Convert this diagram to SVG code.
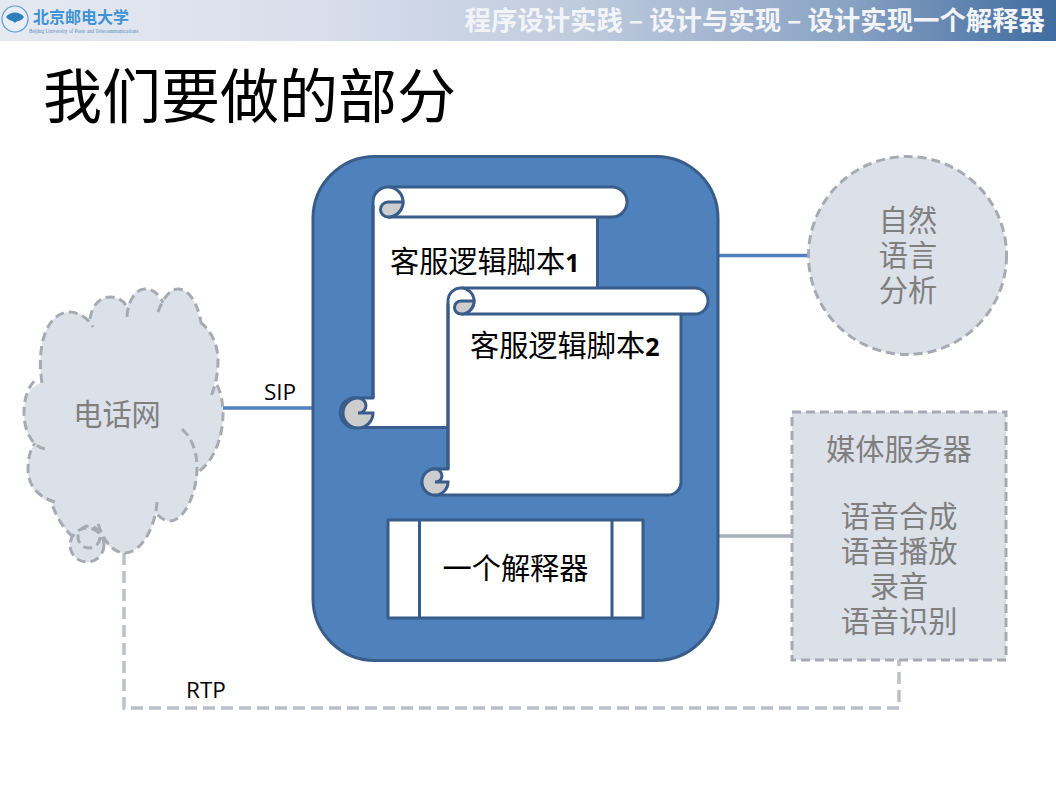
<svg xmlns="http://www.w3.org/2000/svg" width="1056" height="792" viewBox="0 0 1056 792">
<style>
text{font-family:"Noto Sans CJK SC","Liberation Sans",sans-serif}
.gt{fill:#7f7f7f;font-size:29.200px;text-anchor:middle}
.bt{fill:#000;font-size:29.200px}
.num{font-family:"Open Sans","Liberation Sans",sans-serif;font-weight:700;font-size:25px}
.lat{font-family:"Open Sans","Liberation Sans",sans-serif;font-size:22.500px;fill:#000}
.dash{fill:none;stroke:#a6abb3;stroke-width:3;stroke-dasharray:9 5}
.pale{fill:#dce0e9;stroke:none}
.sc{fill:#fff;stroke:#385d8a;stroke-width:3;stroke-linejoin:round}
.curl{fill:#cdcdcd;stroke:#385d8a;stroke-width:3}
</style>
<defs>
<linearGradient id="band" x1="0" x2="1" y1="0" y2="0">
<stop offset="0" stop-color="#e6e9f2"/><stop offset=".3" stop-color="#d8deeb"/><stop offset=".55" stop-color="#bfcbde"/><stop offset=".8" stop-color="#8aa3c4"/><stop offset="1" stop-color="#3f6c9f"/>
</linearGradient>
</defs>
<g id="header">
<rect width="1056" height="41" fill="url(#band)"/>
<circle cx="15" cy="19" r="13" fill="#e8eef6" stroke="#5b9bd0" stroke-width="1.2"/>
<path d="M6 17c4-6 14-6 18 0c-3 5-7 3-9 6c-3-3-6-2-9-6z" fill="#2f7fbe"/>
<text x="33" y="23" font-size="16" fill="#3d93d3" font-weight="700">北京邮电大学</text>
<text x="29" y="32.500" font-size="5.200" fill="#5b8fbe" style="font-family:'Liberation Serif',serif">Beijing University of Posts and Telecommunications</text>
<text x="1045" y="30" text-anchor="end" font-size="26.400" font-weight="700" fill="#f2f4f8">程序设计实践 – 设计与实现 – 设计实现一个解释器</text>
</g>
<text id="title" x="43" y="118" font-size="59" fill="#000">我们要做的部分</text>
<g id="connectors" fill="none" stroke-width="3.500">
<path d="M718 255.500H808" stroke="#4f81bd"/>
<path d="M223 408H313" stroke="#4f81bd"/>
<path d="M718 536H792" stroke="#a9afb8"/>
<path d="M124 553V708H899V660" stroke="#bcc0c9" stroke-dasharray="12 6"/>
<text class="lat" x="264" y="400" stroke="none">SIP</text>
<text class="lat" x="186" y="698" stroke="none">RTP</text>
</g>
<g id="telephone-network">
<circle class="pale" cx="87" cy="545" r="17"/>
<path class="pale" d="M42 383C36 345 47 312 70 312C78 312 87 316 90 320C92 305 100 297 110 297C118 297 124 301 127 307C130 296 136 289 145 289C152 289 158 294 161 303C166 294 171 289 178 289C189 289 197 302 200 322C211 330 218 345 218 360C218 370 216 378 214 385C220 393 223 403 223 413C223 440 212 463 198 472C196 494 184 521 170 521C165 521 160 518 156 513C150 538 137 553 125 553C112 553 102 540 97 530C86 537 80 539 73 537C63 528 55 515 52 503C36 497 28 485 28 470C28 458 30 450 35 443C27 435 24 425 24 413C24 398 30 385 42 383Z"/>
<g class="dash">
<path d="M42 383C36 345 47 312 70 312C78 312 88 318 93 327"/>
<path d="M90 319C92 305 100 297 110 297C118 297 124 301 127 307"/>
<path d="M127 317C128 300 136 289 145 289C153 289 159 294 163 303"/>
<path d="M158 312C163 298 170 289 178 289C189 289 197 302 201 322"/>
<path d="M200 322C211 330 218 345 218 360C218 375 215 388 210 398"/>
<path d="M217 385C221 393 223 403 223 413C223 440 212 463 198 472"/>
<path d="M182 429C192 438 197 452 197 467C197 494 184 521 170 521C165 521 160 518 156 513"/>
<path d="M157 502C155 530 140 553 125 553C112 553 101 538 97 519"/>
<path d="M73 537C63 528 55 515 52 503"/>
<path d="M55 502C38 497 28 485 28 470C28 458 30 450 35 443"/>
<path d="M45 449C32 447 24 430 24 413C24 398 28 385 38 378"/>
<circle cx="87" cy="545" r="17"/>
<circle cx="89" cy="537" r="11"/>
</g>
<text class="gt" x="117" y="425">电话网</text>
</g>
<g id="core">
<rect x="313" y="156.500" width="405" height="504" rx="62" fill="#4f81bd" stroke="#385d8a" stroke-width="3"/>
</g>
<g id="script-1">
<path class="sc" d="M373 202A15 15 0 0 1 388 187H612A15 15 0 0 1 612 217H597.500V413A14 14 0 0 1 583 427.500H358A15 15 0 1 1 358 398H373Z"/>
<path class="sc" d="M373 398V205M388 217H597" fill="none"/>
<path class="curl" d="M373 413H358A7.500 7.500 0 0 0 366 405.500A8 8 0 0 0 358 398A15 15 0 1 0 373 413Z"/>
<path class="sc" d="M388 187A15 15 0 0 1 388 217H388" fill="#fff"/>
<path class="curl" d="M403 202A15 15 0 0 1 388 217A7.500 7.500 0 0 1 388 202Z"/>
<text class="bt" x="390" y="272">客服逻辑脚本<tspan class="num">1</tspan></text>
</g>
<g id="script-2">
<path class="sc" d="M448 301A13 13 0 0 1 461 288H695A13 13 0 0 1 695 314H681V482A13 13 0 0 1 668 495H435A13 13 0 1 1 435 469H448Z"/>
<path class="sc" d="M448 469V304M463 314H681" fill="none"/>
<path class="curl" d="M448 482H435A6.500 6.500 0 0 0 442 475.500A7 7 0 0 0 435 469A13 13 0 1 0 448 482Z"/>
<path class="sc" d="M461 288A13 13 0 0 1 461 314"/>
<path class="curl" d="M474 301A13 13 0 0 1 461 314A6.500 6.500 0 0 1 461 301Z"/>
<text class="bt" x="470" y="356">客服逻辑脚本<tspan class="num">2</tspan></text>
</g>
<g id="interpreter">
<rect class="sc" x="388" y="520" width="255" height="98"/>
<path class="sc" d="M419.500 520V618M612 520V618"/>
<text class="bt" x="515.500" y="579" text-anchor="middle">一个解释器</text>
</g>
<g id="nlp">
<circle cx="907.500" cy="255.500" r="99" class="dash" style="fill:#dce0e9"/>
<text class="gt"><tspan x="908" y="231">自然</tspan><tspan x="908" y="266">语言</tspan><tspan x="908" y="301">分析</tspan></text>
</g>
<g id="media-server">
<rect x="792" y="412" width="214" height="248" class="dash" style="fill:#dce0e9"/>
<text class="gt"><tspan x="899" y="460">媒体服务器</tspan><tspan x="899" y="527">语音合成</tspan><tspan x="899" y="562">语音播放</tspan><tspan x="899" y="597">录音</tspan><tspan x="899" y="632">语音识别</tspan></text>
</g>
</svg>
